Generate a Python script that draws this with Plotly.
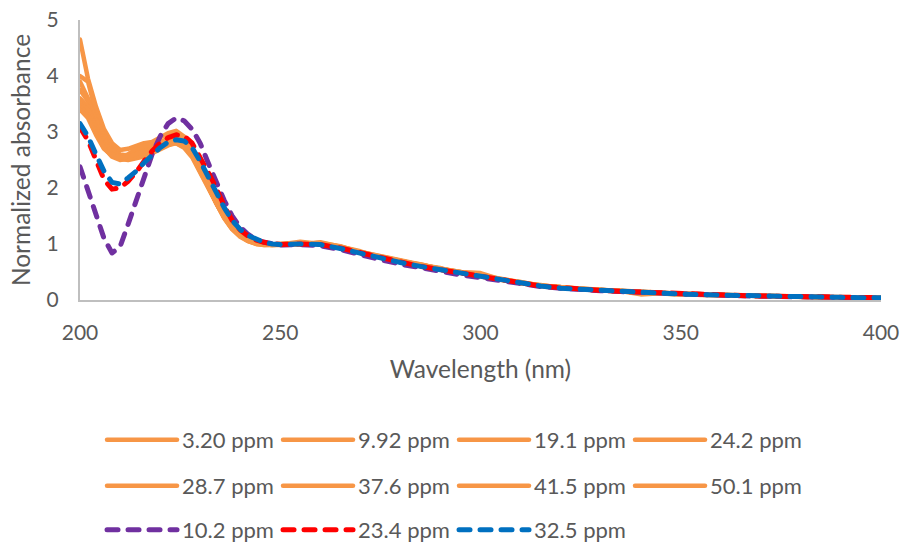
import plotly.graph_objects as go

# Wavelength grid (nm)
wavelength = [200, 202, 204, 206, 208, 210, 212, 214, 216, 218, 220, 222, 224, 226, 228,
              230, 232, 234, 236, 238, 240, 242, 244, 246, 248, 250,
              255, 260, 265, 270, 275, 280, 285, 290, 295, 300, 305, 310, 315, 320, 325,
              330, 335, 340, 345, 350, 355, 360, 365, 370, 375, 380, 385, 390, 395, 400]

# Orange (solid) series
s_3_20 = [4.65, 3.95, 3.45, 3.05, 2.80, 2.68, 2.70, 2.75, 2.80, 2.82, 2.90, 2.98, 3.02, 2.92, 2.70,
          2.40, 2.08, 1.77, 1.50, 1.30, 1.17, 1.08, 1.03, 1.00, 0.99, 1.00,
          1.02, 1.01, 0.95, 0.86, 0.78, 0.70, 0.62, 0.56, 0.50, 0.44, 0.37, 0.31, 0.26, 0.23, 0.20,
          0.18, 0.16, 0.14, 0.125, 0.11, 0.10, 0.09, 0.08, 0.075, 0.066, 0.06, 0.055, 0.05, 0.044, 0.04]
s_9_92 = [4.00, 3.90, 3.35, 2.95, 2.72, 2.60, 2.58, 2.62, 2.68, 2.75, 2.82, 2.90, 2.95, 2.85, 2.65,
          2.36, 2.05, 1.75, 1.50, 1.30, 1.16, 1.07, 1.02, 1.00, 0.99, 0.99,
          1.04, 1.00, 0.94, 0.85, 0.77, 0.69, 0.61, 0.55, 0.50, 0.48, 0.37, 0.30, 0.27, 0.22, 0.20,
          0.17, 0.16, 0.15, 0.12, 0.11, 0.10, 0.085, 0.08, 0.07, 0.065, 0.058, 0.052, 0.048, 0.043, 0.035]
s_19_1 = [3.90, 3.60, 3.25, 2.90, 2.68, 2.56, 2.55, 2.57, 2.60, 2.65, 2.72, 2.80, 2.85, 2.78, 2.60,
          2.33, 2.02, 1.73, 1.48, 1.28, 1.15, 1.06, 1.01, 0.99, 0.98, 0.99,
          1.00, 1.02, 0.96, 0.84, 0.76, 0.70, 0.63, 0.56, 0.49, 0.43, 0.38, 0.31, 0.26, 0.22, 0.21,
          0.18, 0.15, 0.13, 0.13, 0.10, 0.095, 0.09, 0.08, 0.07, 0.07, 0.06, 0.05, 0.045, 0.045, 0.03]
s_24_2 = [3.75, 3.55, 3.20, 2.85, 2.65, 2.55, 2.58, 2.62, 2.70, 2.74, 2.78, 2.84, 2.88, 2.80, 2.62,
          2.35, 2.04, 1.74, 1.49, 1.29, 1.16, 1.07, 1.02, 1.00, 0.99, 1.00,
          1.01, 1.00, 0.93, 0.86, 0.77, 0.69, 0.62, 0.55, 0.49, 0.43, 0.36, 0.31, 0.25, 0.23, 0.19,
          0.17, 0.16, 0.10, 0.12, 0.11, 0.09, 0.09, 0.075, 0.075, 0.062, 0.06, 0.05, 0.05, 0.04, 0.04]
s_28_7 = [3.60, 3.45, 3.10, 2.80, 2.62, 2.52, 2.50, 2.52, 2.56, 2.62, 2.70, 2.76, 2.80, 2.74, 2.57,
          2.30, 2.00, 1.72, 1.47, 1.27, 1.14, 1.05, 1.00, 0.98, 0.97, 0.98,
          0.99, 1.03, 0.95, 0.87, 0.76, 0.68, 0.64, 0.55, 0.49, 0.42, 0.37, 0.30, 0.26, 0.21, 0.20,
          0.18, 0.15, 0.14, 0.12, 0.10, 0.10, 0.085, 0.08, 0.07, 0.065, 0.055, 0.055, 0.045, 0.04, 0.035]
s_37_6 = [3.50, 3.40, 3.05, 2.75, 2.60, 2.55, 2.60, 2.70, 2.75, 2.78, 2.76, 2.80, 2.82, 2.76, 2.60,
          2.34, 2.03, 1.74, 1.49, 1.29, 1.15, 1.06, 1.01, 0.99, 0.99, 1.00,
          1.00, 1.01, 0.94, 0.85, 0.78, 0.68, 0.62, 0.57, 0.48, 0.44, 0.36, 0.32, 0.25, 0.22, 0.19,
          0.17, 0.17, 0.14, 0.12, 0.115, 0.09, 0.09, 0.075, 0.07, 0.065, 0.06, 0.05, 0.05, 0.042, 0.04]
s_41_5 = [3.45, 3.30, 3.00, 2.72, 2.56, 2.50, 2.52, 2.55, 2.60, 2.66, 2.72, 2.78, 2.80, 2.72, 2.55,
          2.28, 1.98, 1.70, 1.46, 1.26, 1.13, 1.05, 1.00, 0.98, 0.98, 0.99,
          1.02, 1.00, 0.95, 0.84, 0.77, 0.70, 0.61, 0.56, 0.50, 0.43, 0.37, 0.30, 0.26, 0.22, 0.20,
          0.17, 0.155, 0.14, 0.125, 0.10, 0.10, 0.085, 0.08, 0.072, 0.06, 0.06, 0.052, 0.045, 0.042, 0.02]
s_50_1 = [3.40, 3.25, 2.95, 2.70, 2.58, 2.54, 2.56, 2.60, 2.66, 2.70, 2.76, 2.82, 2.86, 2.78, 2.60,
          2.33, 2.02, 1.73, 1.48, 1.28, 1.15, 1.06, 1.01, 0.99, 0.98, 0.99,
          1.01, 1.02, 0.94, 0.86, 0.76, 0.69, 0.62, 0.55, 0.49, 0.43, 0.37, 0.31, 0.25, 0.23, 0.19,
          0.18, 0.16, 0.14, 0.12, 0.11, 0.095, 0.09, 0.078, 0.07, 0.066, 0.058, 0.053, 0.048, 0.04, 0.038]

# Dashed series
s_10_2 = [2.38, 1.95, 1.50, 1.10, 0.84, 0.95, 1.35, 1.75, 2.15, 2.60, 2.92, 3.15, 3.25, 3.20, 3.05,
          2.80, 2.45, 2.10, 1.78, 1.50, 1.30, 1.17, 1.08, 1.03, 1.00, 0.98,
          0.99, 0.97, 0.90, 0.80, 0.72, 0.64, 0.57, 0.51, 0.45, 0.40, 0.34, 0.29, 0.24, 0.21, 0.18,
          0.165, 0.15, 0.135, 0.115, 0.10, 0.09, 0.082, 0.075, 0.068, 0.062, 0.056, 0.05, 0.045, 0.04, 0.036]
s_23_4 = [3.08, 2.85, 2.50, 2.15, 1.98, 2.00, 2.12, 2.28, 2.48, 2.66, 2.80, 2.90, 2.95, 2.93, 2.80,
          2.56, 2.28, 2.00, 1.68, 1.42, 1.25, 1.14, 1.07, 1.03, 1.00, 0.99,
          1.00, 0.99, 0.93, 0.84, 0.75, 0.68, 0.60, 0.54, 0.48, 0.42, 0.36, 0.30, 0.25, 0.22, 0.19,
          0.17, 0.155, 0.14, 0.12, 0.105, 0.095, 0.086, 0.079, 0.071, 0.065, 0.058, 0.052, 0.047, 0.043, 0.04]
s_32_5 = [3.15, 2.92, 2.60, 2.30, 2.10, 2.07, 2.18, 2.30, 2.45, 2.60, 2.72, 2.82, 2.86, 2.84, 2.72,
          2.48, 2.20, 1.92, 1.65, 1.42, 1.26, 1.15, 1.08, 1.03, 1.00, 0.99,
          1.00, 0.99, 0.92, 0.83, 0.75, 0.67, 0.60, 0.54, 0.48, 0.42, 0.36, 0.30, 0.25, 0.21, 0.19,
          0.17, 0.155, 0.14, 0.12, 0.105, 0.095, 0.085, 0.078, 0.07, 0.064, 0.058, 0.052, 0.047, 0.042, 0.038]

orange_names = ["3.20 ppm", "9.92 ppm", "19.1 ppm", "24.2 ppm",
                "28.7 ppm", "37.6 ppm", "41.5 ppm", "50.1 ppm"]
orange_data = [s_3_20, s_9_92, s_19_1, s_24_2, s_28_7, s_37_6, s_41_5, s_50_1]
dashed_names = ["10.2 ppm", "23.4 ppm", "32.5 ppm"]
dashed_data = [s_10_2, s_23_4, s_32_5]
dashed_colors = ["#7030A0", "#FF0000", "#0070C0"]

x_ticks = [200, 250, 300, 350, 400]
y_ticks = [0, 1, 2, 3, 4, 5]

FONT = "Lato"
GREY = "#595959"

fig = go.Figure()
for i, (name, ys) in enumerate(zip(orange_names, orange_data)):
    fig.add_trace(go.Scatter(
        x=wavelength, y=ys, name=name, mode="lines",
        line=dict(color="#F79646", width=4.5),
        legend="legend" if i < 4 else "legend2",
    ))
for name, ys, col in zip(dashed_names, dashed_data, dashed_colors):
    fig.add_trace(go.Scatter(
        x=wavelength, y=ys, name=name, mode="lines",
        line=dict(color=col, width=5, dash="11px,10px"),
        legend="legend3",
    ))

leg_common = dict(orientation="h", xanchor="left", yanchor="middle",
                  font=dict(family=FONT, size=22, color=GREY),
                  entrywidth=91, entrywidthmode="pixels", itemwidth=70,
                  bgcolor="rgba(0,0,0,0)", traceorder="normal")

fig.update_layout(
    width=906, height=544,
    margin=dict(l=80, r=25, t=20, b=244, autoexpand=False),
    paper_bgcolor="white", plot_bgcolor="white",
    font=dict(family=FONT, color=GREY),
    showlegend=True,
    legend=dict(x=0.0275, y=-0.5, **leg_common),
    legend2=dict(x=0.0275, y=-0.664, **leg_common),
    legend3=dict(x=0.0275, y=-0.821, **leg_common),
    xaxis=dict(
        range=[200, 400], tickvals=x_ticks, showgrid=False, zeroline=False,
        showline=True, linecolor="#BFBFBF", linewidth=2, automargin=False,
        tickfont=dict(family=FONT, size=21, color=GREY), ticks="",
        ticklabelstandoff=13,
        title=dict(text="Wavelength (nm)", font=dict(family=FONT, size=24.5, color=GREY), standoff=18),
    ),
    yaxis=dict(
        range=[0, 5], tickvals=y_ticks, showgrid=False, zeroline=False,
        showline=True, linecolor="#BFBFBF", linewidth=2, automargin=False,
        tickfont=dict(family=FONT, size=21, color=GREY), ticks="",
        ticklabelstandoff=15,
        title=dict(text="Normalized absorbance", font=dict(family=FONT, size=24.5, color=GREY), standoff=9),
    ),
)

fig.write_html(
    "out.html", config={"displayModeBar": False},
    post_script=(
        "document.body.style.margin='0';document.body.style.padding='0';"
        "var s=document.createElement('style');"
        "s.textContent='.js-line{stroke-linecap:round;stroke-linejoin:round;}';"
        "document.head.appendChild(s);"
    ),
)
